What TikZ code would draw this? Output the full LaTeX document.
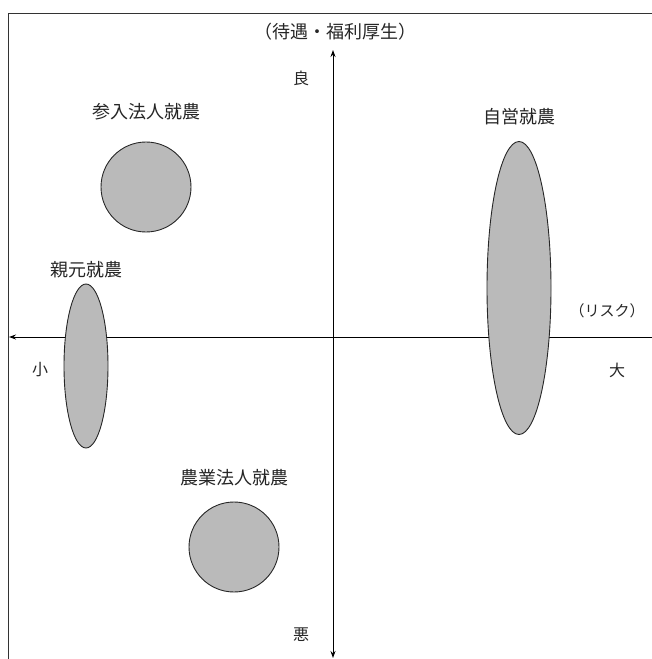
\documentclass[tikz,border=0pt]{standalone}
\usepackage{fontspec}
\newfontfamily\jpfont{Noto Sans CJK JP}
\usetikzlibrary{arrows.meta,positioning,shapes.geometric}

\tikzset{
  blob/.style={draw=black!85, fill=black!27, line width=0.9pt, ellipse, inner sep=0pt},
  lbl/.style={font=\jpfont\fontsize{16bp}{19bp}\selectfont, text=black!85, inner sep=1pt},
  grouplbl/.style={lbl, font=\jpfont\fontsize{18bp}{21bp}\selectfont},
  axis/.style={line width=0.9pt, black}
}

\begin{document}
\begin{tikzpicture}[x=1bp, y=-1bp, >={Stealth[length=7bp,width=5bp]}]
  \useasboundingbox (0,0) rectangle (652,659);
  % frame
  \draw[black!80, line width=0.8pt] (8,659) -- (8,13) -- (652,13);

  % axes
  \coordinate (top) at (333,50);
  \coordinate (bot) at (333,658);
  \coordinate (lft) at (9,337);
  \coordinate (rgt) at (652,337);
  \draw[axis, <->] (top) -- (bot);
  \draw[axis, ->] (rgt) -- (lft);

  % axis labels
  \node[grouplbl] (quality) at (335,32) {（待遇・福利厚生）};
  \node[lbl] (good) at (301,78) {良};
  \node[lbl] (bad) at (301,635) {悪};
  \node[lbl, font=\jpfont\fontsize{15bp}{18bp}\selectfont] (risk) at (607,311) {（リスク）};
  \node[lbl] (small) at (40,370) {小};
  \node[lbl] (large) at (617,370) {大};

  % groups
  \node[blob, minimum width=90bp, minimum height=90bp] (entry) at (146,187) {};
  \node[blob, minimum width=44bp, minimum height=164bp] (parent) at (86,366) {};
  \node[blob, minimum width=64bp, minimum height=293bp] (self) at (519,288) {};
  \node[blob, minimum width=90bp, minimum height=90bp] (corp) at (234,547) {};

  \node[grouplbl, above=20bp of entry] (entrylbl) {参入法人就農};
  \node[grouplbl, above=4bp of parent] (parentlbl) {親元就農};
  \node[grouplbl, above=15bp of self] (selflbl) {自営就農};
  \node[grouplbl, above=14bp of corp] (corplbl) {農業法人就農};
\end{tikzpicture}
\end{document}
